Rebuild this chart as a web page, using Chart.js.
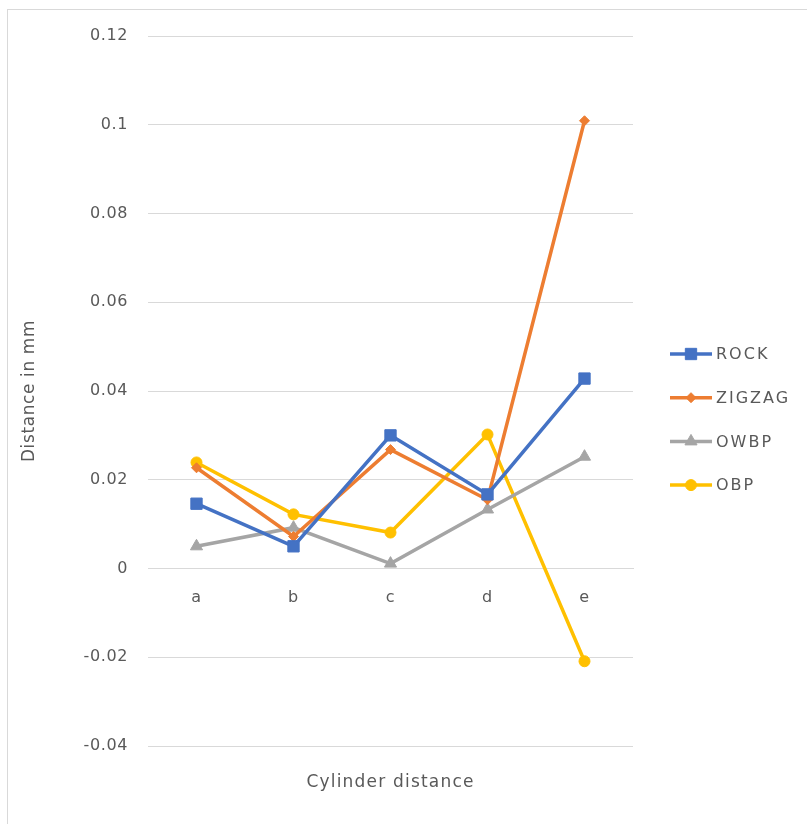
<!DOCTYPE html>
<html>
<head>
<meta charset="utf-8">
<script src="https://cdn.jsdelivr.net/npm/chart.js@4.4.1/dist/chart.umd.min.js"></script>
<style>
  html, body { margin: 0; padding: 0; background: #fff; }
  #wrap { position: relative; width: 807px; height: 824px; overflow: hidden; }
  #frame { position: absolute; left: 7px; top: 9px; width: 820px; height: 830px; border: 1px solid #d9d9d9; box-sizing: border-box; }
  #c { position: absolute; left: 0; top: 0; }
  #xtitle { position: absolute; left: 148px; width: 485px; top: 771px; text-align: center;
    font-family: "DejaVu Sans", sans-serif; font-size: 17px; letter-spacing: 1.2px; color: #595959; }
</style>
</head>
<body>
<div id="wrap">
  <div id="frame"></div>
  <canvas id="c" width="807" height="824"></canvas>
  <div id="xtitle">Cylinder distance</div>
</div>
<script>
const categories = ["a", "b", "c", "d", "e"];
const rock = [0.0146, 0.0050, 0.0300, 0.0167, 0.0428];
const zigzag = [0.0227, 0.0072, 0.0268, 0.0155, 0.1009];
const owbp = [0.0050, 0.0092, 0.0011, 0.0133, 0.0252];
const obp = [0.0239, 0.0122, 0.0081, 0.0302, -0.0209];
const yTicks = [-0.04, -0.02, 0, 0.02, 0.04, 0.06, 0.08, 0.1, 0.12];

const textColor = "#595959";
const gridColor = "#d9d9d9";
const fontFamily = "'DejaVu Sans', sans-serif";

function series(label, data, color, style, radius) {
  return {
    label, data,
    borderColor: color, backgroundColor: color,
    pointBackgroundColor: color, pointBorderColor: color,
    borderWidth: 3.5, pointStyle: style, pointRadius: radius,
    pointBorderWidth: 1, tension: 0
  };
}

// the spreadsheet text is a bit widely spaced
const spacing = {
  id: "spacing",
  beforeDraw(chart) { chart.ctx.letterSpacing = "0.6px"; }
};

// legend drawn as line + marker, like the spreadsheet one
const sideLegend = {
  id: "sideLegend",
  afterDraw(chart) {
    const ctx = chart.ctx;
    const x0 = 670, top = 354, gap = 43.7;
    ctx.save();
    chart.data.datasets.forEach((ds, i) => {
      const y = top + i * gap;
      ctx.strokeStyle = ds.borderColor;
      ctx.lineWidth = 3.5;
      ctx.beginPath();
      ctx.moveTo(x0, y);
      ctx.lineTo(x0 + 42, y);
      ctx.stroke();
      ctx.fillStyle = ds.borderColor;
      ctx.strokeStyle = ds.borderColor;
      ctx.lineWidth = 1;
      Chart.helpers.drawPoint(ctx, { pointStyle: ds.pointStyle, radius: ds.pointRadius, borderWidth: 1 }, x0 + 21, y);
      ctx.fillStyle = textColor;
      ctx.font = "16px " + fontFamily;
      ctx.letterSpacing = "2px";
      ctx.textBaseline = "middle";
      ctx.fillText(ds.label, x0 + 46, y + 1);
    });
    ctx.restore();
  }
};

new Chart(document.getElementById("c"), {
  type: "line",
  data: {
    labels: categories,
    datasets: [
      series("ROCK", rock, "#4472C4", "rect", 8),
      series("ZIGZAG", zigzag, "#ED7D31", "rectRot", 5),
      series("OWBP", owbp, "#A5A5A5", "triangle", 7),
      series("OBP", obp, "#FFC000", "circle", 5.5)
    ]
  },
  options: {
    responsive: false,
    animation: false,
    layout: { padding: { left: 0, right: 174, top: 36, bottom: 78 } },
    plugins: {
      legend: { display: false },
      tooltip: { enabled: false }
    },
    scales: {
      x: {
        position: { y: 0 },
        offset: true,
        grid: { display: false, drawTicks: false },
        border: { display: true, color: gridColor, width: 1 },
        ticks: { color: textColor, font: { family: fontFamily, size: 16 }, padding: 20 }
      },
      y: {
        min: -0.04, max: 0.12,
        afterFit(scale) { scale.width = 148; },
        afterBuildTicks(scale) { scale.ticks = yTicks.map(v => ({ value: v })); },
        grid: { color: gridColor, drawTicks: false, lineWidth: 1 },
        border: { display: false },
        ticks: {
          color: textColor, font: { family: fontFamily, size: 16 }, padding: 20,
          callback: v => String(parseFloat(v.toFixed(2)))
        },
        title: {
          display: true, text: "Distance in mm", color: textColor,
          font: { family: fontFamily, size: 17 }, padding: { top: 19, bottom: 0 }
        }
      }
    }
  },
  plugins: [spacing, sideLegend]
});
</script>
</body>
</html>
